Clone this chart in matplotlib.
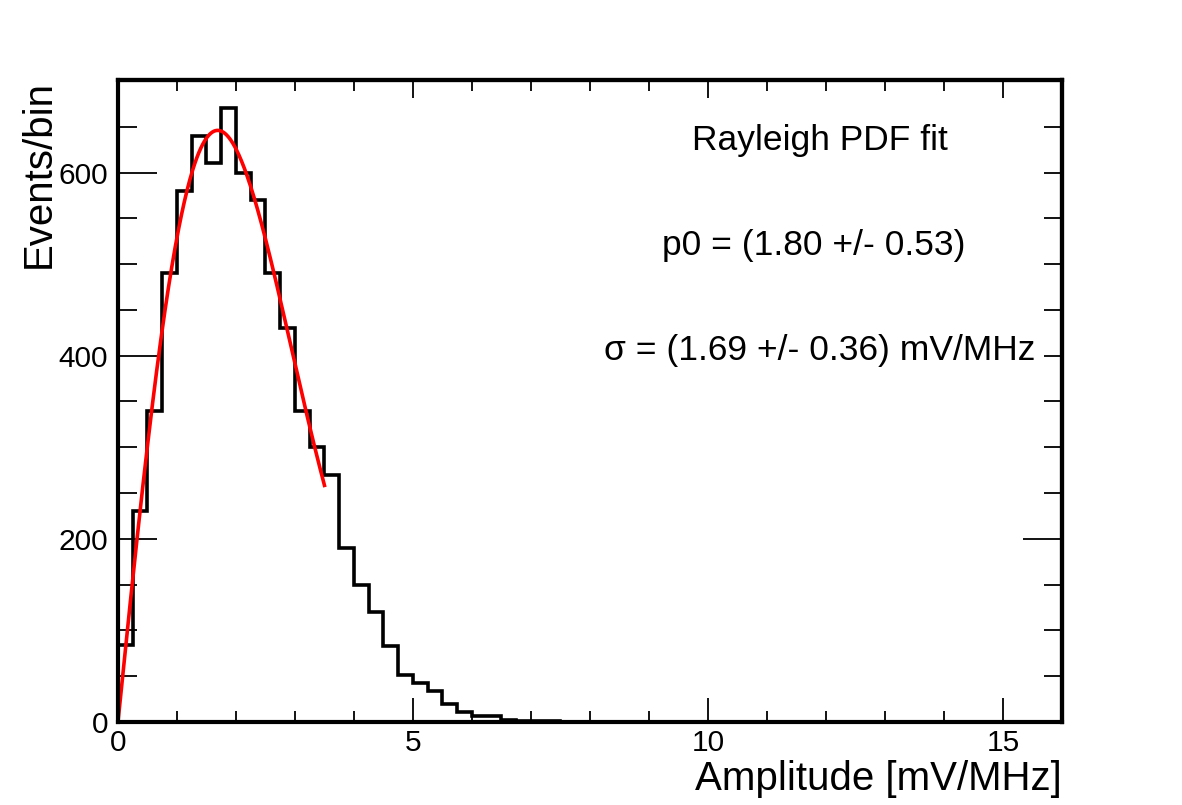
import numpy as np
import matplotlib
matplotlib.use("Agg")
import matplotlib.pyplot as plt
from matplotlib.ticker import MultipleLocator, FixedLocator, NullFormatter

plt.rcParams['font.family'] = ['Liberation Sans', 'DejaVu Sans']

# Histogram: bin width 0.25 from 0 to 16
bin_edges = np.arange(0, 16.0001, 0.25)
counts = [84, 230, 340, 490, 580, 640, 610, 670, 600, 570, 490, 430, 340, 300,
          270, 190, 150, 120, 83, 51, 43, 34, 20, 11, 7, 7, 2, 1, 1, 1, 0, 0,
          0, 0, 0, 0, 0, 0, 0, 0, 0, 0, 0, 0, 0, 0, 0, 0,
          0, 0, 0, 0, 0, 0, 0, 0, 0, 0, 0, 0, 0, 0, 0, 0]

# Rayleigh fit parameters shown on the chart
p0 = 1.80
sigma = 1.69
fit_range = (0.0, 3.5)

fig = plt.figure(figsize=(11.82, 8.05), dpi=100)
ax = fig.add_axes([0.0998, 0.1031, 0.7987, 0.7975])

ax.stairs(counts, bin_edges, baseline=0, color='black', linewidth=2.6)

xf = np.linspace(fit_range[0], fit_range[1], 300)
yf = 1000 * p0 * xf / sigma**2 * np.exp(-xf**2 / (2 * sigma**2))
ax.plot(xf, yf, color='red', linewidth=2.6)

ax.set_xlim(0, 16)
ax.set_ylim(0, 701)

ax.xaxis.set_major_locator(MultipleLocator(5))
ax.xaxis.set_minor_locator(MultipleLocator(1))
ax.yaxis.set_major_locator(MultipleLocator(200))
ax.yaxis.set_minor_locator(MultipleLocator(50))

ax.tick_params(axis='both', which='both', direction='in', top=False, right=False,
               labelsize=21.5, width=1.3, color='black')
ax.tick_params(axis='x', which='major', length=17, pad=5)
ax.tick_params(axis='x', which='minor', length=8)
ax.tick_params(axis='y', which='major', length=28, pad=7)
ax.tick_params(axis='y', which='minor', length=14)
for s in ax.spines.values():
    s.set_linewidth(3)

# top and right axes (ticks only)
top = ax.secondary_xaxis('top')
top.xaxis.set_major_locator(MultipleLocator(5))
top.xaxis.set_minor_locator(MultipleLocator(1))
top.xaxis.set_major_formatter(NullFormatter())
top.tick_params(axis='x', which='major', direction='in', length=13, width=1.3)
top.tick_params(axis='x', which='minor', direction='in', length=8, width=1.3)
top.spines['top'].set_linewidth(3)

right = ax.secondary_yaxis('right')
right.yaxis.set_major_locator(FixedLocator([200]))
right.yaxis.set_minor_locator(MultipleLocator(50))
right.yaxis.set_major_formatter(NullFormatter())
right.tick_params(axis='y', which='major', direction='in', length=28, width=1.3)
right.tick_params(axis='y', which='minor', direction='in', length=13, width=1.3)
right.spines['right'].set_linewidth(3)

ax.set_xlabel('Amplitude [mV/MHz]', fontsize=29, loc='right', labelpad=2)
ax.set_ylabel('Events/bin', fontsize=29, loc='top')
ax.yaxis.set_label_coords(-0.064, 1.0)

ax.text(0.7436, 0.9065, 'Rayleigh PDF fit', transform=ax.transAxes,
        ha='center', va='center', fontsize=25.5)
ax.text(0.737, 0.743, 'p0 = (1.80 +/- 0.53)', transform=ax.transAxes,
        ha='center', va='center', fontsize=25.5)
ax.text(0.7436, 0.5794, '\u03c3 = (1.69 +/- 0.36) mV/MHz', transform=ax.transAxes,
        ha='center', va='center', fontsize=25.5)

fig.savefig('out.png', dpi=100)
